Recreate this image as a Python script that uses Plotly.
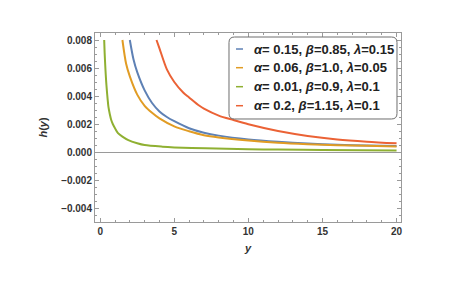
import plotly.graph_objects as go

# Data
x_blue = [2.0, 2.25, 2.5, 3.0, 3.5, 4.0, 4.5, 5.0, 6.0, 7.0, 8.0, 10.0, 12.0, 14.0, 16.0, 18.0, 20.0]
h_blue = [0.0080, 0.0066, 0.0057, 0.0044, 0.0035, 0.0029, 0.0025, 0.0022, 0.0017, 0.00138,
          0.00117, 0.00090, 0.00073, 0.00061, 0.00052, 0.00046, 0.00042]

x_orange = [1.5, 1.75, 2.0, 2.5, 3.0, 3.5, 4.0, 5.0, 6.0, 7.0, 8.0, 10.0, 12.0, 14.0, 16.0, 18.0, 20.0]
h_orange = [0.0080, 0.0063, 0.0054, 0.0041, 0.0033, 0.0028, 0.0024, 0.00183, 0.00148, 0.00120,
            0.00104, 0.00082, 0.00066, 0.00056, 0.00049, 0.00044, 0.00039]

x_green = [0.27, 0.3, 0.35, 0.4, 0.45, 0.5, 0.56, 0.65, 0.74, 0.85, 1.0, 1.2, 1.5, 1.9, 2.5,
           3.0, 4.2, 5.0, 7.1, 10.0, 12.0, 15.0, 20.0]
h_green = [0.0080, 0.0071, 0.0060, 0.0051, 0.0044, 0.0038, 0.0032, 0.0027, 0.0023, 0.0020,
           0.0017, 0.00135, 0.00110, 0.00085, 0.00063, 0.00050, 0.00038, 0.00033, 0.00026,
           0.00020, 0.00017, 0.00014, 0.00010]

x_red = [3.8, 4.0, 4.5, 5.0, 5.6, 6.0, 6.7, 7.0, 8.0, 9.0, 10.0, 12.0, 14.0, 16.0, 18.0, 20.0]
h_red = [0.0080, 0.0074, 0.0059, 0.0050, 0.00425, 0.0039, 0.0033, 0.0031, 0.0026, 0.00228,
         0.00198, 0.00150, 0.00115, 0.00090, 0.00074, 0.00062]

labels = [
    "<b><i>α</i>= 0.15, <i>β</i>=0.85, <i>λ</i>=0.15</b>",
    "<b><i>α</i>= 0.06, <i>β</i>=1.0, <i>λ</i>=0.05</b>",
    "<b><i>α</i>= 0.01, <i>β</i>=0.9, <i>λ</i>=0.1</b>",
    "<b><i>α</i>= 0.2, <i>β</i>=1.15, <i>λ</i>=0.1</b>",
]
colors = ["#5E81B5", "#E19C24", "#8FB032", "#EB6235"]

series = [(x_blue, h_blue), (x_orange, h_orange), (x_green, h_green), (x_red, h_red)]

fig = go.Figure()
for (xs, ys), lab, col in zip(series, labels, colors):
    fig.add_trace(go.Scatter(x=xs, y=ys, mode="lines", name=lab, showlegend=False,
                             line=dict(color=col, width=2, shape="spline", smoothing=0.8)))

# Hand-drawn Mathematica-style legend (rounded box, short line samples, text)
L_X0, L_X1, L_Y0, L_Y1 = 0.4379, 0.9869, 0.545, 0.9788
rx, ry = 0.018, 0.029
box_path = (f"M {L_X0 + rx},{L_Y1} L {L_X1 - rx},{L_Y1} Q {L_X1},{L_Y1} {L_X1},{L_Y1 - ry} "
            f"L {L_X1},{L_Y0 + ry} Q {L_X1},{L_Y0} {L_X1 - rx},{L_Y0} "
            f"L {L_X0 + rx},{L_Y0} Q {L_X0},{L_Y0} {L_X0},{L_Y0 + ry} "
            f"L {L_X0},{L_Y1 - ry} Q {L_X0},{L_Y1} {L_X0 + rx},{L_Y1} Z")
fig.add_shape(type="path", path=box_path, xref="paper", yref="paper",
              fillcolor="white", line=dict(color="#6e6e6e", width=1), layer="above")
entry_y = [0.9153, 0.8164, 0.7159, 0.6153]
for yy, lab, col in zip(entry_y, labels, colors):
    fig.add_shape(type="line", xref="paper", yref="paper", x0=0.4608, x1=0.4837, y0=yy, y1=yy,
                  line=dict(color=col, width=1.5), layer="above")
    fig.add_annotation(x=0.5131, y=yy, xref="paper", yref="paper", text=lab, showarrow=False,
                       xanchor="left", yanchor="middle",
                       font=dict(family="Liberation Sans, Arial", size=13, color="#222222"))

axis_common = dict(
    showline=True, linecolor="#9a9a9a", linewidth=1, mirror="ticks",
    ticks="inside", ticklen=4, tickcolor="#9a9a9a", tickwidth=1,
    showgrid=False,
    tickfont=dict(family="Liberation Sans, Arial", size=10, color="#333333", weight="bold"),
)

fig.update_layout(
    width=451, height=284,
    margin=dict(l=95, r=50, t=33, b=62),
    paper_bgcolor="white", plot_bgcolor="white",
    showlegend=False,
    xaxis=dict(
        range=[-0.35, 20.3], tickvals=[0, 5, 10, 15, 20],
        minor=dict(dtick=1, ticks="inside", ticklen=2, tickcolor="#9a9a9a"),
        zeroline=False,
        title=dict(text="<b><i>y</i></b>", standoff=8,
                   font=dict(family="Liberation Sans, Arial", size=11, color="#333333")),
        **axis_common,
    ),
    yaxis=dict(
        range=[-0.005, 0.0085], tickvals=[-0.004, -0.002, 0.0, 0.002, 0.004, 0.006, 0.008],
        tickformat=".3f",
        minor=dict(dtick=0.0005, ticks="inside", ticklen=2, tickcolor="#9a9a9a"),
        zeroline=True, zerolinecolor="#9a9a9a", zerolinewidth=1,
        title=dict(text="<b><i>h</i>(<i>y</i>)</b>", standoff=11,
                   font=dict(family="Liberation Sans, Arial", size=11, color="#333333")),
        **axis_common,
    ),
)

fig.write_html("out.html", config={"displayModeBar": False},
               post_script="document.body.style.margin='0';")
